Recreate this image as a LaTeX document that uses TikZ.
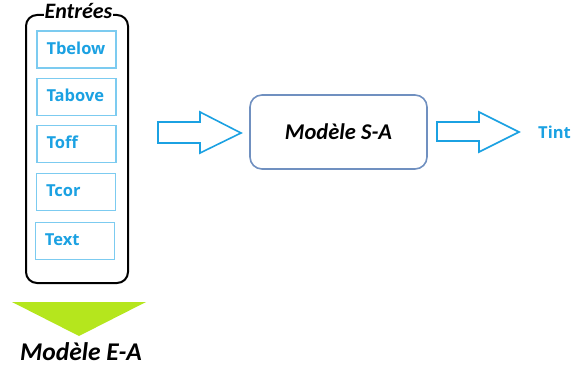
\documentclass[tikz,border=0pt]{standalone}
\usepackage{fontspec}
\setmainfont{Carlito}
\newfontfamily\labelfont{Open Sans}
\definecolor{tblue}{HTML}{1BA1E2}
\definecolor{bblue}{HTML}{7CCBF0}
\definecolor{sagray}{HTML}{7090C0}
\definecolor{tgreen}{HTML}{B5E61D}
\begin{document}
\begin{tikzpicture}[x=1pt,y=-1pt,
  inbox/.style={draw=bblue, line width=1.2pt, minimum width=79pt, minimum height=37pt,
    text width=60pt, align=left, inner sep=0pt, text=tblue, font=\labelfont\bfseries\fontsize{16.5}{24}\selectfont},
  blockarrow/.style={draw=tblue, line width=1.6pt, fill=white, line join=miter},
  title/.style={font=\fontsize{22.5}{24}\selectfont\bfseries\itshape, text=black}]
\useasboundingbox (0,0) rectangle (571,369);
% outer container
\draw[line width=2pt, rounded corners=11pt] (26,15) rectangle (128,283);
\node[title, fill=white, inner sep=1pt, font=\fontsize{22}{24}\selectfont\bfseries\itshape] (entrees) at (78.5,11) {Entrées};
% input boxes
\node[inbox] (tbelow) at (76.5,49.5) {Tbelow\strut};
\node[inbox] (tabove) at (76.5,97) {Tabove\strut};
\node[inbox] (toff) at (76.5,144) {Toff\strut};
\node[inbox] (tcor) at (76,192) {Tcor\strut};
\node[inbox] (text) at (75,241) {Text\strut};
% green triangle
\fill[tgreen] (12,302) -- (146,302) -- (79,336) -- cycle;
\node[title, font=\fontsize{25.5}{27}\selectfont\bfseries\itshape] (ea) at (81,352) {Modèle E-A};
% S-A model
\node[draw=sagray, line width=1.6pt, rounded corners=12pt, minimum width=177pt, minimum height=74pt,
  title] (sa) at (338.5,132) {Modèle S-A};
% arrows
\draw[blockarrow] (158,122) -- (200,122) -- (200,112) -- (241,133) -- (200,153) -- (200,143) -- (158,143) -- cycle;
\draw[blockarrow] (437,122) -- (479,122) -- (479,112) -- (519,132) -- (479,152) -- (479,141) -- (437,141) -- cycle;
\node[text=tblue, font=\labelfont\bfseries\fontsize{16.5}{20}\selectfont, anchor=west, inner sep=0pt] (tint) at (538,132) {Tint};
\end{tikzpicture}
\end{document}
